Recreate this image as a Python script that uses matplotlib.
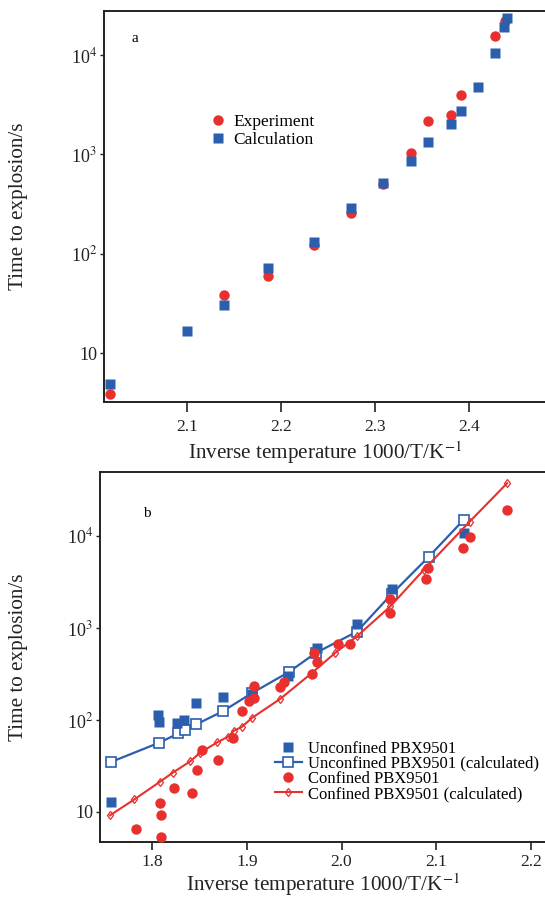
import matplotlib
matplotlib.use("Agg")
import matplotlib.pyplot as plt
from matplotlib.ticker import FixedLocator, FixedFormatter, NullLocator

plt.rcParams['font.family'] = ['Liberation Serif', 'DejaVu Serif']
plt.rcParams['mathtext.fontset'] = 'stix'

# ---------------- Panel a data ----------------
a_exp_x = [2.0178, 2.139, 2.186, 2.235, 2.274, 2.3085, 2.338, 2.3557, 2.381, 2.391, 2.427, 2.438]
a_exp_y = [3.86, 38.2, 59.8, 123, 255, 500, 1040, 2180, 2490, 3930, 15600, 22100]
a_calc_x = [2.0178, 2.100, 2.139, 2.186, 2.235, 2.274, 2.3085, 2.338, 2.3557, 2.381, 2.391, 2.4097, 2.427, 2.437, 2.4405]
a_calc_y = [4.9, 16.8, 30.5, 72.4, 132, 287, 519, 859, 1324, 2040, 2750, 4800, 10400, 19300, 23400]

# ---------------- Panel b data ----------------
b_unc_x = [1.7559, 1.8056, 1.8074, 1.8258, 1.8335, 1.8462, 1.8744, 1.905, 1.9439, 1.974, 2.0162, 2.0533, 2.1298]
b_unc_y = [12.8, 112, 96, 91.6, 99.5, 151, 178, 190, 303, 606, 1090, 2680, 10700]
b_unc_calc_x = [1.7559, 1.8071, 1.8275, 1.8346, 1.8462, 1.8744, 1.905, 1.944, 1.9728, 2.0162, 2.0533, 2.092, 2.129]
b_unc_calc_y = [34.8, 56.5, 71.3, 77.4, 89.3, 124, 195, 330, 535, 910, 2350, 5900, 14900]
b_con_x = [1.7827, 1.8081, 1.809, 1.809, 1.8229, 1.8416, 1.8476, 1.853, 1.8698, 1.885, 1.8945, 1.9026,
           1.907, 1.9076, 1.935, 1.9393, 1.9693, 1.971, 1.9739, 1.9968, 2.0092, 2.0508, 2.0515,
           2.0896, 2.091, 2.128, 2.1355, 2.175]
b_con_y = [6.5, 12.6, 9.2, 5.3, 18.4, 16.2, 28.3, 47, 36.4, 64, 124, 160,
           233, 174, 229, 257, 319, 535, 424, 674, 674, 1470, 2055,
           3390, 4470, 7360, 9840, 19100]
b_con_calc_x = [1.7553, 1.781, 1.8081, 1.8216, 1.8399, 1.8505, 1.8688, 1.8804, 1.886, 1.8946, 1.9052,
                1.9351, 1.9687, 1.9933, 2.0162, 2.0515, 2.0868, 2.1355, 2.175]
b_con_calc_y = [9.2, 13.7, 21.3, 26.7, 35.4, 44, 57.3, 66, 76, 84, 105,
                169, 324, 535, 809, 1710, 4260, 14300, 37300]

xticks_a = [2.1, 2.2, 2.3, 2.4]
xticks_b = [1.8, 1.9, 2.0, 2.1, 2.2]
yticks = [10, 100, 1000, 10000]
ytick_labels = ['10', '10$^2$', '10$^3$', '10$^4$']

RED = '#e8302f'
BLUE = '#2b5fad'
INK = '#222222'

fig = plt.figure(figsize=(5.45, 9.0), dpi=100)
W, H = 545.0, 900.0

def ax_at(left, top, right, bottom):
    return fig.add_axes([left / W, 1 - bottom / H, (right - left) / W, (bottom - top) / H])

def style(ax, xticks, xlabelpad, xpad, xlen):
    ax.set_yscale('log')
    ax.yaxis.set_major_locator(FixedLocator(yticks))
    ax.yaxis.set_major_formatter(FixedFormatter(ytick_labels))
    ax.yaxis.set_minor_locator(NullLocator())
    ax.set_xticks(xticks)
    ax.set_xticklabels([f'{t:.1f}' for t in xticks])
    for s in ax.spines.values():
        s.set_linewidth(1.4)
        s.set_color(INK)
    ax.tick_params(axis='x', direction='out', length=xlen, width=1.2, labelsize=12.5, pad=xpad, colors=INK)
    ax.tick_params(axis='y', direction='out', length=3, width=1.0, labelsize=13, pad=2, colors=INK)
    ax.set_xlabel('Inverse temperature 1000/T/K$^{-1}$', fontsize=15.2, color=INK, labelpad=xlabelpad)
    ax.set_ylabel('Time to explosion/s', fontsize=15.2, color=INK)
    pos = ax.get_position()
    ax.yaxis.set_label_coords(-(pos.x0 * W - 28) / (pos.width * W), 0.5)

# Panel a
axa = ax_at(104, 11, 547, 402)
axa.plot(a_exp_x, a_exp_y, 'o', color=RED, ms=7.5, mec='none', label='Experiment', zorder=2)
axa.plot(a_calc_x, a_calc_y, 's', color=BLUE, ms=7.5, mec='none', label='Calculation', zorder=3)
axa.set_xlim(2.0114, 2.4827)
axa.set_ylim(3.24, 27700)
style(axa, xticks_a, 3, 5, 7)
fig.text(135 / W, 1 - 39 / H, 'a', fontsize=11, va='center', ha='center')
axa.legend(loc='upper left', bbox_to_anchor=(0.226, 0.755), frameon=False, fontsize=12.5,
           handlelength=0.8, handletextpad=0.5, labelspacing=0.1, borderaxespad=0)

# Panel b
axb = ax_at(100, 471.7, 547, 842)
axb.plot(b_unc_x, b_unc_y, 's', color=BLUE, ms=7.5, mec='none', label='Unconfined PBX9501', zorder=3)
axb.plot(b_unc_calc_x, b_unc_calc_y, '-s', color=BLUE, ms=7.5, mfc='white', mec=BLUE, mew=1.2, lw=1.6,
         label='Unconfined PBX9501 (calculated)', zorder=2)
axb.plot(b_con_x, b_con_y, 'o', color=RED, ms=7.5, mec='none', label='Confined PBX9501', zorder=4)
axb.plot(b_con_calc_x, b_con_calc_y, '-d', color=RED, ms=4.5, mfc='none', mec=RED, mew=0.9, lw=1.5,
         label='Confined PBX9501 (calculated)', zorder=3)
axb.set_xlim(1.7447, 2.2172)
axb.set_ylim(4.72, 49800)
style(axb, xticks_b, 0.5, 3, 6)
fig.text(146.7 / W, 1 - 513.3 / H, 'b', fontsize=11, va='center', ha='center')
axb.legend(loc='upper left', bbox_to_anchor=(0.3915, 0.274), frameon=False, fontsize=12,
           handlelength=1.6, handletextpad=0.4, labelspacing=-0.05, borderaxespad=0, borderpad=0)

fig.savefig('out.png', dpi=100)
